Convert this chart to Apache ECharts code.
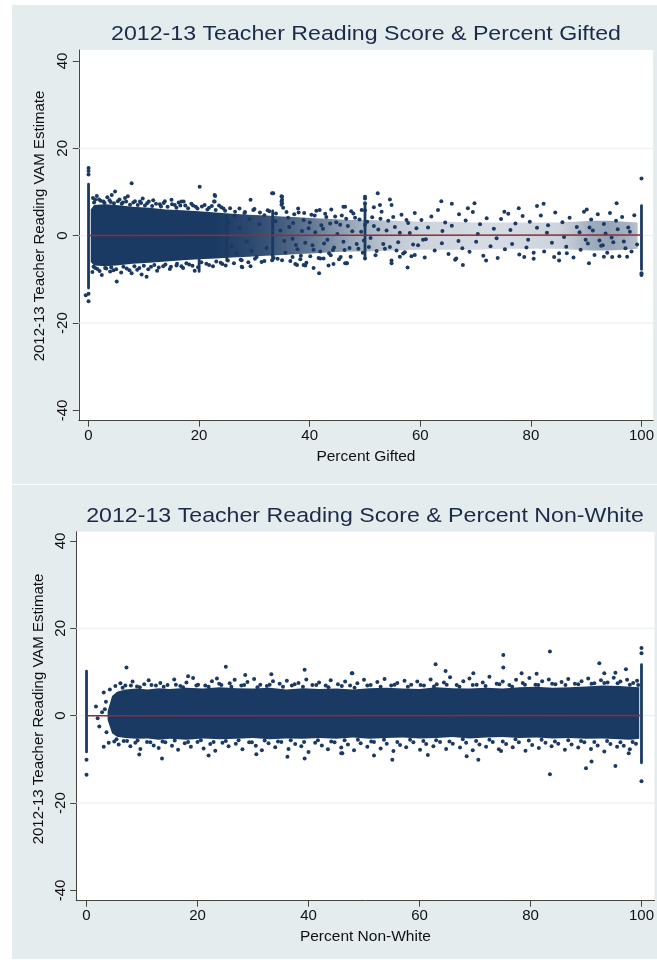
<!DOCTYPE html>
<html><head><meta charset="utf-8">
<script src="https://cdn.jsdelivr.net/npm/echarts@6/dist/echarts.min.js"></script>
<style>html,body{margin:0;padding:0;background:#fff}#c{width:657px;height:960px}</style>
</head><body><div id="c"></div>
<script>
// ---------- tick labels ----------
const yTicks = [-40, -20, 0, 20, 40];
const xTicks = [0, 20, 40, 60, 80, 100];
const gridYs = [-20, 0, 20];

// ---------- titles ----------
const titles = ['2012-13 Teacher Reading Score & Percent Gifted', '2012-13 Teacher Reading Score & Percent Non-White'];
const xNames = ['Percent Gifted', 'Percent Non-White'];
const yName = '2012-13 Teacher Reading VAM Estimate';

// ---------- fitted lines ----------
const fitX = [0, 100];
const giftedFitY = [0.05, 0.15];
const nonWhiteFitY = [0.0, 0.05];

// ---------- chart 1: Percent Gifted ----------
// dense cloud envelope (x, upper, lower, density)
const giftedBandX  = [0.4, 1, 3, 5, 8, 11, 14, 17, 20, 23, 26, 29, 32, 35, 38, 41, 44, 47, 50, 55, 60, 65, 70, 75, 80, 85, 88, 91, 94, 97, 99.3];
const giftedBandHi = [6.0, 7.0, 7.2, 7.0, 6.6, 6.4, 6.0, 5.8, 5.6, 5.3, 5.0, 4.8, 4.6, 4.4, 4.2, 4.0, 3.8, 3.6, 3.6, 3.4, 3.2, 3.2, 3.0, 3.0, 3.0, 3.0, 3.2, 3.4, 3.4, 3.2, 3.0];
const giftedBandLo = [-6.0, -6.8, -7.0, -6.8, -6.4, -6.2, -5.9, -5.6, -5.4, -5.2, -5.0, -4.8, -4.6, -4.4, -4.2, -4.0, -3.8, -3.6, -3.6, -3.4, -3.2, -3.2, -3.2, -3.0, -3.0, -3.0, -3.2, -3.4, -3.4, -3.2, -3.0];
const giftedBandDen = [1, 1, 1, 1, 1, 1, 1, 1, 1, 1, 0.96, 0.93, 0.88, 0.82, 0.74, 0.66, 0.56, 0.46, 0.38, 0.28, 0.22, 0.2, 0.18, 0.18, 0.2, 0.22, 0.3, 0.42, 0.46, 0.4, 0.32];
// vertical streaks (x, low, high)
const giftedStreaks = [[0, -12.3, 12.1], [100, -8.0, 7.2], [50, -5.5, 7.5], [20, -8.5, 4.0], [33.3, -6.0, 6.0], [25, -6.0, 5.0]];
const giftedPoints = [
  [0,14.0],[0,15.5],[0,14.8],[0,-13.3],[0,-15.0],[-0.5,-13.6],[100,13.1],[100,-9.0],[100,-8.6],
  [7.8,12.0],[20.1,11.2],[22.8,9.3],[22.8,7.8],[33.2,9.7],[34.9,9.0],[34.9,7.8],[34.9,7.1],[4.8,10.1],[4.2,9.3],
  [1.2,8.2],[2.7,7.8],[6.6,8.6],[9.3,7.8],[15,8.2],[16.8,7.8],[29.3,8.2],[46.1,6.6],[47.5,5.6],
  [5.1,-10.5],[7.8,-8.6],[10.5,-9.4],[19.2,-8.0],[27.7,-7.1],[29.3,-7.0],[37.4,-6.5],[39.2,-6.8],[40.7,-7.4],
  [41.7,-8.6],[43.4,-6.8],[46.4,-6.3],[3.0,-7.4],[3.9,-8.2],[0.9,-7.1],
  [33.4,9.7],[35.0,8.9],[35.0,8.2],[35.0,7.4],[22.9,9.1],[22.7,7.8],[50.0,8.9],[50.0,7.4],[51.6,6.5],
  [41.8,5.9],[37.9,6.2],[27.8,-7.2],[37.7,-6.7],[38.9,-6.7],[42.5,-5.2],[44.3,-6.5],[46.7,-6.3],[33.2,-5.6],
  [50.0,8.5],[52.3,9.7],[54.5,8.3],[52.7,7.0],[54.8,7.0],[63.8,7.9],[65.7,7.3],[69.8,7.4],[68.6,6.3],
  [81.1,6.8],[82.3,7.3],[90.1,6.0],[95.5,7.4],[75.2,5.5],[77.8,6.3],[46.4,6.6],[49.4,5.9],
  [46.7,-6.3],[54.8,-6.3],[57.7,-7.3],[67.7,-6.7],[71.9,-5.7],[78.8,-4.9],[85.1,-5.7],[90.5,-6.3],[93.2,-4.8],
  [94.7,-4.9],[97.4,-4.8],[56.3,-4.8],[59,-4.4],[66.5,-5.2],[80.5,-3.9],[84.2,-4.9],[86.5,-4.0],
  [0.8,8.6],[1.5,9.1],[2.2,8.0],[3.4,8.8],[4.0,7.7],[5.6,8.3],[6.2,7.6],[7.1,9.0],[8.4,7.9],[9.8,8.5],[10.6,7.4],
  [11.7,8.1],[12.9,7.2],[13.8,7.9],[15.6,7.0],[16.3,7.6],[17.5,6.9],[18.6,7.3],[19.4,6.6],[21.0,7.0],[21.8,6.4],
  [23.6,6.9],[24.4,6.2],
  [0.7,-8.3],[1.6,-7.6],[2.4,-9.0],[4.5,-7.9],[5.9,-8.4],[6.9,-7.5],[8.8,-7.8],[9.6,-8.9],[11.3,-7.1],[12.4,-8.0],
  [13.5,-7.0],[14.7,-7.6],[15.9,-6.8],[17.1,-7.4],[18.2,-6.6],[19.8,-7.2],[21.3,-6.4],[22.5,-7.0],[23.9,-6.2],[24.8,-6.8],
  [1.0,7.6],[1.9,8.3],[2.9,7.5],[3.8,8.1],[4.6,7.4],[5.3,7.9],[6.0,7.3],[6.8,7.8],[7.5,7.1],[8.1,7.6],[8.9,7.0],
  [9.5,7.5],[10.2,6.9],[10.9,7.8],[11.5,6.8],[12.2,7.3],[13.1,6.7],[13.6,7.5],[14.3,6.6],[15.1,7.2],[15.9,6.4],
  [16.6,6.9],[17.2,7.8],[18.0,6.3],[18.9,6.9],[19.7,6.2],[20.5,6.7],[21.5,6.0],[22.3,6.8],[23.0,5.9],[24.0,6.5],
  [24.7,5.7],[25.6,6.3],[26.5,5.5],[27.3,6.2],[28.3,5.4],[29.8,5.9],[31.0,5.3],[32.4,5.8],[33.9,5.1],[35.8,5.4],
  [37.2,4.9],[39.0,5.2],[40.9,4.6],[42.8,5.0],[44.6,4.4],
  [1.2,-7.4],[2.0,-8.1],[3.2,-7.5],[4.1,-7.2],[5.0,-7.7],[6.3,-7.1],[7.4,-7.9],[8.3,-7.0],[9.2,-7.4],[10.0,-6.9],
  [10.8,-7.7],[11.9,-6.7],[12.7,-7.3],[13.9,-6.6],[14.9,-7.1],[16.0,-6.4],[16.8,-7.0],[17.7,-6.3],[18.8,-6.9],[20.4,-6.1],
  [21.8,-6.7],[23.1,-5.9],[24.2,-6.5],[25.2,-5.7],[26.3,-6.3],[27.5,-5.5],[28.9,-6.1],[30.1,-5.3],[31.8,-5.8],[33.5,-5.1],
  [35.0,-5.6],[36.9,-4.9],[38.3,-5.4],[40.1,-4.7],[41.9,-5.2],[43.8,-4.5],[45.6,-4.9],
  [25.3,3.1],[25.9,-2.4],[26.4,4.5],[26.8,-4.1],[27.3,1.8],[27.7,-5.6],[28.2,5.2],[28.6,-1.3],[29.1,3.8],[29.5,-3.5],
  [30.0,6.1],[30.4,-4.9],[30.9,2.6],[31.3,-6.0],[31.8,4.7],[32.2,-2.8],[32.7,5.6],[33.3,-4.4],[33.8,3.3],[34.2,-5.3],
  [34.7,1.2],[35.2,6.4],[35.6,-3.9],[36.1,4.1],[36.5,-5.8],[37.0,2.9],[37.5,-2.1],[38.0,5.3],[38.4,-4.6],[38.9,3.6],
  [39.4,-6.2],[39.8,1.7],[40.3,4.8],[40.7,-3.2],[41.2,5.7],[41.6,-5.1],[42.1,2.4],[42.6,-1.8],[43.0,4.3],[43.5,-4.0],
  [43.9,6.0],[44.4,-2.7],[44.8,3.1],[45.3,-5.4],
  [35.4,-1.2],[36.3,2.0],[36.9,-0.7],[37.8,-3.1],[38.6,1.1],[39.2,-1.6],[40.0,3.0],[40.5,-2.2],[41.0,0.8],[41.9,-3.6],
  [42.4,1.6],[43.2,-0.9],[43.7,2.8],[44.2,-3.3],[45.0,0.4],[45.5,2.5],[46.1,-1.4],[46.6,3.9],[47.2,-2.8],[47.7,1.0],
  [48.2,4.1],[48.8,-3.0],[49.3,0.9],[49.8,-1.1],[50.4,3.2],[51.0,-0.5],[51.6,2.2],[52.1,-3.5],[52.8,3.9],[53.3,-1.9],
  [53.9,1.2],[54.5,-2.6],[55.1,4.3],[55.7,-3.4],[56.3,0.7],[56.9,-4.1],[57.5,3.6],[58.7,-2.0],[59.3,1.7],[60.5,-0.9],
  [45.8,4.6],[46.3,-3.3],[46.9,2.2],[47.4,-4.8],[47.9,5.1],[48.5,-1.9],[49.0,3.7],[49.6,-3.9],[50.0,5.8],[50.0,-5.2],
  [50.0,2.5],[50.7,-2.6],[51.3,4.2],[51.9,-4.5],[52.4,1.4],[53.0,5.5],[53.6,-3.0],[54.2,3.4],[54.8,-5.7],[55.4,2.0],
  [56.0,-1.5],[56.6,4.8],[57.2,-3.8],[57.8,2.9],[58.4,-4.7],[59.0,5.2],[59.6,-2.2],[60.2,3.6],[60.8,-5.0],[61.4,1.9],
  [62.0,4.4],[62.6,-3.4],[63.2,5.9],[63.9,-1.7],[64.5,3.0],[65.1,-4.2],[65.7,2.3],[66.3,-5.5],[67.0,4.9],[67.6,-2.9],
  [68.2,3.5],[68.9,-3.7],[69.5,5.4],[70.1,-1.4],[70.8,2.6],[71.4,-4.6],[72.0,4.0],[72.7,-2.4],[73.3,1.6],[74.0,-5.1],
  [74.6,3.8],[75.3,-3.1],[75.9,5.0],[76.6,-1.9],[77.2,2.8],[77.9,-4.3],[78.5,4.5],[79.2,-2.7],[79.8,3.2],[80.5,-5.3],
  [81.1,1.8],[81.8,4.6],[82.4,-3.6],[83.1,2.4],[83.8,-1.6],[84.4,5.3],[85.1,-4.0],[85.7,3.1],[86.4,-2.5],[87.0,4.1],
  [87.7,-5.0],[88.3,2.0],[89.0,-3.2],[89.6,5.5],[90.3,-1.8],[90.9,3.7],[91.5,-4.4],[92.1,4.9],[92.7,-2.3],[93.2,2.7],
  [93.8,-3.9],[94.3,5.2],[94.9,-1.5],[95.4,3.4],[96.0,-4.7],[96.5,4.3],[97.1,-2.9],[97.6,1.9],[98.2,-3.6],[98.7,4.7],[99.2,-2.0],
  [88.8,0.8],[89.9,-0.9],[91.2,1.2],[92.4,-1.1],[93.5,0.5],[94.6,-0.4],[95.7,1.5],[96.8,-1.3],[97.9,0.9],[90.6,1.9],[93.0,-2.2],
  [58.1,0.6],[61.0,-0.8],[64.0,1.1],[66.9,-1.2],[70.4,0.4],[73.8,-0.6],[76.3,1.3],[79.5,-0.9],[82.9,0.7],[86.0,-0.3]
];

// ---------- chart 2: Percent Non-White ----------
const nonWhiteBandX  = [3.8, 4.6, 5.5, 7, 9, 11, 13, 15, 18, 21, 24, 27, 30, 33, 36, 39, 42, 45, 48, 51, 54, 57, 60, 63, 66, 69, 72, 75, 78, 81, 84, 87, 90, 93, 96, 98, 99.6];
const nonWhiteBandHi = [1.0, 4.5, 5.5, 6.0, 6.2, 6.0, 6.3, 6.1, 6.4, 6.2, 6.5, 6.3, 6.2, 6.4, 6.0, 6.3, 6.1, 6.2, 6.0, 6.3, 6.4, 6.2, 6.1, 6.5, 6.3, 6.2, 6.4, 6.2, 6.5, 6.6, 6.4, 6.5, 6.7, 6.9, 6.8, 6.6, 6.5];
const nonWhiteBandLo = [-1.0, -4.0, -4.8, -5.1, -5.3, -5.2, -5.5, -5.3, -5.5, -5.2, -5.4, -5.3, -5.1, -5.4, -5.2, -5.3, -5.1, -5.3, -5.0, -5.3, -5.1, -5.0, -5.2, -5.1, -4.9, -5.2, -5.0, -4.9, -5.1, -5.0, -5.2, -5.1, -5.3, -5.2, -5.4, -5.5, -5.3];
const nonWhiteStreaks = [[0, -8.6, 10.5], [100, -11.1, 12.0]];
const nonWhitePoints = [
  [0,-10.1],[0,-13.5],[100,14.3],[100,15.5],[100,-15.0],
  [1.7,2.1],[2.3,-2.5],[3.1,-7.1],[3.1,5.3],[2.8,0.8],[3.5,3.2],[3.6,-3.8],[2.0,-0.6],[3.3,1.5],[4.0,-6.2],[4.2,6.0],
  [7.2,11],[25.1,11.2],[33.3,9.5],[39.3,10.5],[47.9,9.7],[13.6,-9.8],[39.3,-9.8],[45.9,-8.6],[75.1,13.9],[75.1,11],
  [83.5,14.7],[62.9,11.8],[64.7,10.2],[92.4,12],[97.2,10.6],[47.8,9.7],[69.7,9.7],[78.4,9.7],[81.1,9.6],[93.3,9.7],
  [95.3,9.8],[83.5,-13.4],[90,-12],[91,-10.5],[95.3,-11.5],[55.1,-10.1],[61.5,-9],[70.6,-10.1],[46.1,-8.6],[51.8,-9.1],
  [68.5,-9.3],[74.7,-8.1],[97.7,-8.6],[18.3,9.0],[28.6,9.3],[9.5,-8.9],[22,-9.1],[30.6,-8.8],[36.2,-9.4],
  [5.2,6.8],[6.1,7.4],[7.0,6.9],[8.3,7.8],[9.1,6.7],[10.4,7.2],[11.2,8.1],[12.5,6.9],[13.3,7.5],[14.6,7.0],[15.8,8.3],
  [16.9,6.8],[18.0,7.6],[19.2,8.6],[20.1,7.1],[21.4,6.9],[22.6,7.9],[23.5,8.5],[24.3,7.0],[25.8,7.4],[26.7,8.2],
  [27.9,6.9],[29.0,7.7],[30.2,8.4],[31.3,7.1],[32.5,6.8],[33.6,7.9],[34.8,7.3],[36.1,8.0],[37.0,6.9],[38.2,7.5],
  [39.6,8.3],[40.7,7.0],[41.9,7.6],[43.1,6.9],[44.0,8.1],[45.3,7.2],[46.6,7.8],[47.5,6.9],[48.8,7.4],[50.0,8.2],
  [51.2,7.0],[52.4,7.7],[53.7,8.4],[54.9,6.9],[56.0,7.5],[57.3,8.0],[58.5,7.1],[59.6,7.8],[60.8,6.9],[62.0,8.3],
  [63.1,7.2],[64.4,7.6],[65.5,8.8],[66.7,7.0],[67.9,7.9],[69.0,8.5],[70.3,7.1],[71.4,7.6],[72.6,8.9],[73.9,7.3],
  [75.0,7.8],[76.2,7.0],[77.4,8.2],[78.6,7.5],[79.8,8.6],[80.9,7.1],[82.1,7.9],[83.3,8.3],[84.5,7.2],[85.6,7.7],
  [86.8,8.4],[88.0,7.3],[89.2,7.9],[90.4,8.5],[91.5,7.4],[92.7,8.1],[93.9,7.6],[95.0,8.7],[96.2,7.8],[97.4,8.2],
  [98.5,7.5],[99.2,8.0],
  [6.5,6.4],[8.0,6.9],[9.6,6.5],[11.7,7.0],[13.9,6.6],[16.1,7.1],[17.4,6.5],[19.8,6.9],[22.0,6.6],[23.9,7.3],[26.1,6.6],
  [28.4,7.0],[30.8,6.5],[33.0,7.1],[35.4,6.6],[37.5,7.2],[39.0,6.6],[41.4,7.0],[43.6,6.5],[46.0,6.8],[48.3,6.4],[50.6,6.9],
  [53.0,6.6],[55.5,7.1],[57.9,6.6],[60.2,7.0],[62.6,6.7],[64.9,7.1],[67.2,6.6],[69.6,7.0],[71.9,6.8],[74.4,7.2],[76.7,6.6],
  [79.0,7.1],[81.4,7.0],[83.9,7.3],[86.3,7.0],[88.6,7.2],[91.0,7.3],[93.3,7.5],[95.7,7.4],[97.9,7.1],[99.4,7.0],
  [5.0,-5.9],[5.8,-6.6],[6.7,-5.8],[7.9,-7.0],[8.8,-6.2],[9.7,-7.6],[10.9,-6.0],[12.1,-6.8],[13.0,-7.4],[14.2,-6.1],
  [15.4,-6.9],[16.5,-7.8],[17.7,-6.3],[18.8,-7.1],[20.0,-6.0],[21.1,-7.5],[22.3,-6.5],[23.2,-8.0],[24.5,-6.2],[25.6,-7.0],
  [26.9,-6.4],[28.1,-7.7],[29.3,-6.1],[30.5,-6.9],[31.6,-7.9],[32.8,-6.3],[34.0,-7.2],[35.1,-6.0],[36.4,-7.6],[37.6,-6.5],
  [38.7,-7.0],[40.0,-8.3],[41.2,-6.2],[42.4,-6.8],[43.5,-7.7],[44.7,-6.1],[45.9,-7.3],[47.1,-6.6],[48.2,-7.9],[49.4,-6.3],
  [50.6,-7.1],[51.8,-6.0],[53.0,-7.5],[54.1,-6.4],[55.3,-8.1],[56.5,-6.7],[57.6,-7.2],[58.9,-6.1],[60.1,-7.8],[61.2,-6.5],
  [62.5,-7.0],[63.7,-6.0],[64.8,-7.6],[66.0,-6.4],[67.3,-7.3],[68.4,-6.2],[69.6,-7.9],[70.8,-6.6],[72.0,-7.1],[73.2,-6.0],
  [74.3,-7.7],[75.6,-6.5],[76.8,-7.2],[77.9,-6.1],[79.1,-8.0],[80.3,-6.7],[81.5,-7.4],[82.7,-6.2],[83.8,-7.0],[85.0,-6.4],
  [86.2,-7.8],[87.4,-6.6],[88.6,-7.3],[89.7,-6.1],[90.9,-7.6],[92.1,-6.8],[93.3,-8.2],[94.4,-6.5],[95.6,-7.1],[96.8,-6.9],
  [97.9,-7.7],[99.0,-6.4],
  [5.4,-5.4],[7.3,-5.8],[9.2,-5.7],[11.5,-6.1],[13.7,-5.9],[15.9,-5.7],[18.3,-6.0],[20.6,-5.6],[22.9,-6.0],[25.1,-5.8],
  [27.4,-5.6],[29.8,-6.1],[32.1,-5.7],[34.5,-5.9],[36.8,-5.6],[39.2,-6.0],[41.7,-5.6],[44.1,-5.9],[46.5,-5.6],[48.9,-5.5],
  [51.3,-5.9],[53.6,-5.5],[56.0,-6.0],[58.3,-5.5],[60.7,-5.8],[63.0,-5.6],[65.4,-5.9],[67.8,-5.4],[70.2,-5.8],[72.6,-5.5],
  [75.0,-5.9],[77.3,-5.4],[79.7,-5.7],[82.0,-5.5],[84.4,-5.9],[86.8,-5.6],[89.1,-5.8],[91.5,-6.0],[93.8,-5.8],[96.2,-6.1],[98.4,-6.0]
];

// ---------- drawing ----------
const NAVY = '#1b3a63';
const NAVY_RGB = '27,58,99';
const RED = '#8e2f38';
const FONT = '"Liberation Sans", Arial, Helvetica, sans-serif';

const chart = echarts.init(document.getElementById('c'), null, {renderer: 'canvas'});

function bandSeries(idx, xs, his, los, dens) {
  return {
    type: 'custom', xAxisIndex: idx, yAxisIndex: idx, z: 2, silent: true, clip: true,
    data: xs.map((x, i) => [x, his[i], los[i]]),
    encode: {x: 0, y: [1, 2]},
    renderItem: function (params, api) {
      if (params.dataIndex !== 0) return null;
      const top = xs.map((x, i) => api.coord([x, his[i]]));
      const bot = xs.map((x, i) => api.coord([x, los[i]])).reverse();
      let fill = NAVY;
      if (dens) {
        const x0 = xs[0], x1 = xs[xs.length - 1];
        fill = new echarts.graphic.LinearGradient(0, 0, 1, 0,
          xs.map((x, i) => ({offset: (x - x0) / (x1 - x0), color: 'rgba(' + NAVY_RGB + ',' + dens[i] + ')'})));
      }
      return {type: 'polygon', shape: {points: top.concat(bot)}, style: {fill: fill}};
    }
  };
}
function streakSeries(idx, streaks) {
  return {
    type: 'custom', xAxisIndex: idx, yAxisIndex: idx, z: 3, silent: true, clip: true,
    data: streaks, encode: {x: 0, y: [1, 2]},
    renderItem: function (params, api) {
      const p1 = api.coord([api.value(0), api.value(2)]);
      const p2 = api.coord([api.value(0), api.value(1)]);
      return {type: 'rect', shape: {x: p1[0] - 1.4, y: p1[1], width: 2.8, height: p2[1] - p1[1], r: 1.4}, style: {fill: NAVY}};
    }
  };
}
function gridSeries(idx) {
  return {
    type: 'custom', xAxisIndex: idx, yAxisIndex: idx, z: 1, silent: true,
    data: gridYs.map(v => [v]), encode: {y: 0},
    renderItem: function (params, api) {
      const cs = params.coordSys;
      const y = api.coord([0, api.value(0)])[1];
      return {type: 'line', shape: {x1: cs.x, y1: y, x2: cs.x + cs.width, y2: y}, style: {stroke: '#e6edf0', lineWidth: 1}};
    }
  };
}
function scatterSeries(idx, pts) {
  return {type: 'scatter', xAxisIndex: idx, yAxisIndex: idx, z: 4, silent: true, symbolSize: 4,
    itemStyle: {color: NAVY, opacity: 1}, data: pts};
}
function fitSeries(idx, ys) {
  return {type: 'line', xAxisIndex: idx, yAxisIndex: idx, z: 6, silent: true, symbol: 'none',
    lineStyle: {color: RED, width: 1.5}, data: fitX.map((x, i) => [x, ys[i]])};
}
function xAxis(idx, min, max) {
  return {
    type: 'value', gridIndex: idx, min: min, max: max, position: 'bottom',
    name: xNames[idx], nameLocation: 'middle', nameGap: 28,
    nameTextStyle: {fontFamily: FONT, fontSize: 15.5, color: '#111'},
    axisLine: {show: true, onZero: false, lineStyle: {color: '#444', width: 1}},
    axisTick: {show: true, length: 6, customValues: xTicks, lineStyle: {color: '#444'}},
    axisLabel: {customValues: xTicks, fontFamily: FONT, fontSize: 15, color: '#111', margin: 8},
    splitLine: {show: false}
  };
}
function yAxis(idx, min, max) {
  return {
    type: 'value', gridIndex: idx, min: min, max: max,
    axisLine: {show: true, onZero: false, lineStyle: {color: '#444', width: 1}},
    axisTick: {show: true, length: 6, customValues: yTicks, lineStyle: {color: '#444'}},
    axisLabel: {customValues: yTicks, rotate: 90, fontFamily: FONT, fontSize: 15, color: '#111', margin: 8},
    splitLine: {show: false}
  };
}

const option = {
  animation: false,
  backgroundColor: '#ffffff',
  graphic: [
    {type: 'rect', z: -10, shape: {x: 12, y: 5, width: 645, height: 479}, style: {fill: '#e4ecee'}},
    {type: 'rect', z: -10, shape: {x: 12, y: 485, width: 645, height: 474}, style: {fill: '#e4ecee'}},
    {type: 'text', z: 10, x: 366, y: 34, scaleX: 1.13, style: {text: titles[0], font: '20.5px ' + FONT, fill: '#1c2a48', align: 'center', verticalAlign: 'middle'}},
    {type: 'text', z: 10, x: 365, y: 516, scaleX: 1.13, style: {text: titles[1], font: '20.5px ' + FONT, fill: '#1c2a48', align: 'center', verticalAlign: 'middle'}},
    {type: 'text', z: 10, x: 40, y: 226, rotation: Math.PI / 2, style: {text: yName, font: '15px ' + FONT, fill: '#111', align: 'center', verticalAlign: 'middle'}},
    {type: 'text', z: 10, x: 39, y: 709, rotation: Math.PI / 2, style: {text: yName, font: '15px ' + FONT, fill: '#111', align: 'center', verticalAlign: 'middle'}}
  ],
  grid: [
    {left: 78.8, top: 50, width: 578.2, height: 370.7, show: true, backgroundColor: '#fff', borderWidth: 0},
    {left: 76.2, top: 531.7, width: 580.8, height: 369, show: true, backgroundColor: '#fff', borderWidth: 0}
  ],
  xAxis: [xAxis(0, -1.76, 102.1), xAxis(1, -1.86, 102.35)],
  yAxis: [yAxis(0, -42.33, 42.49), yAxis(1, -42.33, 42.1)],
  series: [
    gridSeries(0), gridSeries(1),
    bandSeries(0, giftedBandX, giftedBandHi, giftedBandLo, giftedBandDen),
    bandSeries(1, nonWhiteBandX, nonWhiteBandHi, nonWhiteBandLo, null),
    streakSeries(0, giftedStreaks), streakSeries(1, nonWhiteStreaks),
    scatterSeries(0, giftedPoints), scatterSeries(1, nonWhitePoints),
    fitSeries(0, giftedFitY), fitSeries(1, nonWhiteFitY)
  ]
};
chart.setOption(option);
</script>
</body></html>
